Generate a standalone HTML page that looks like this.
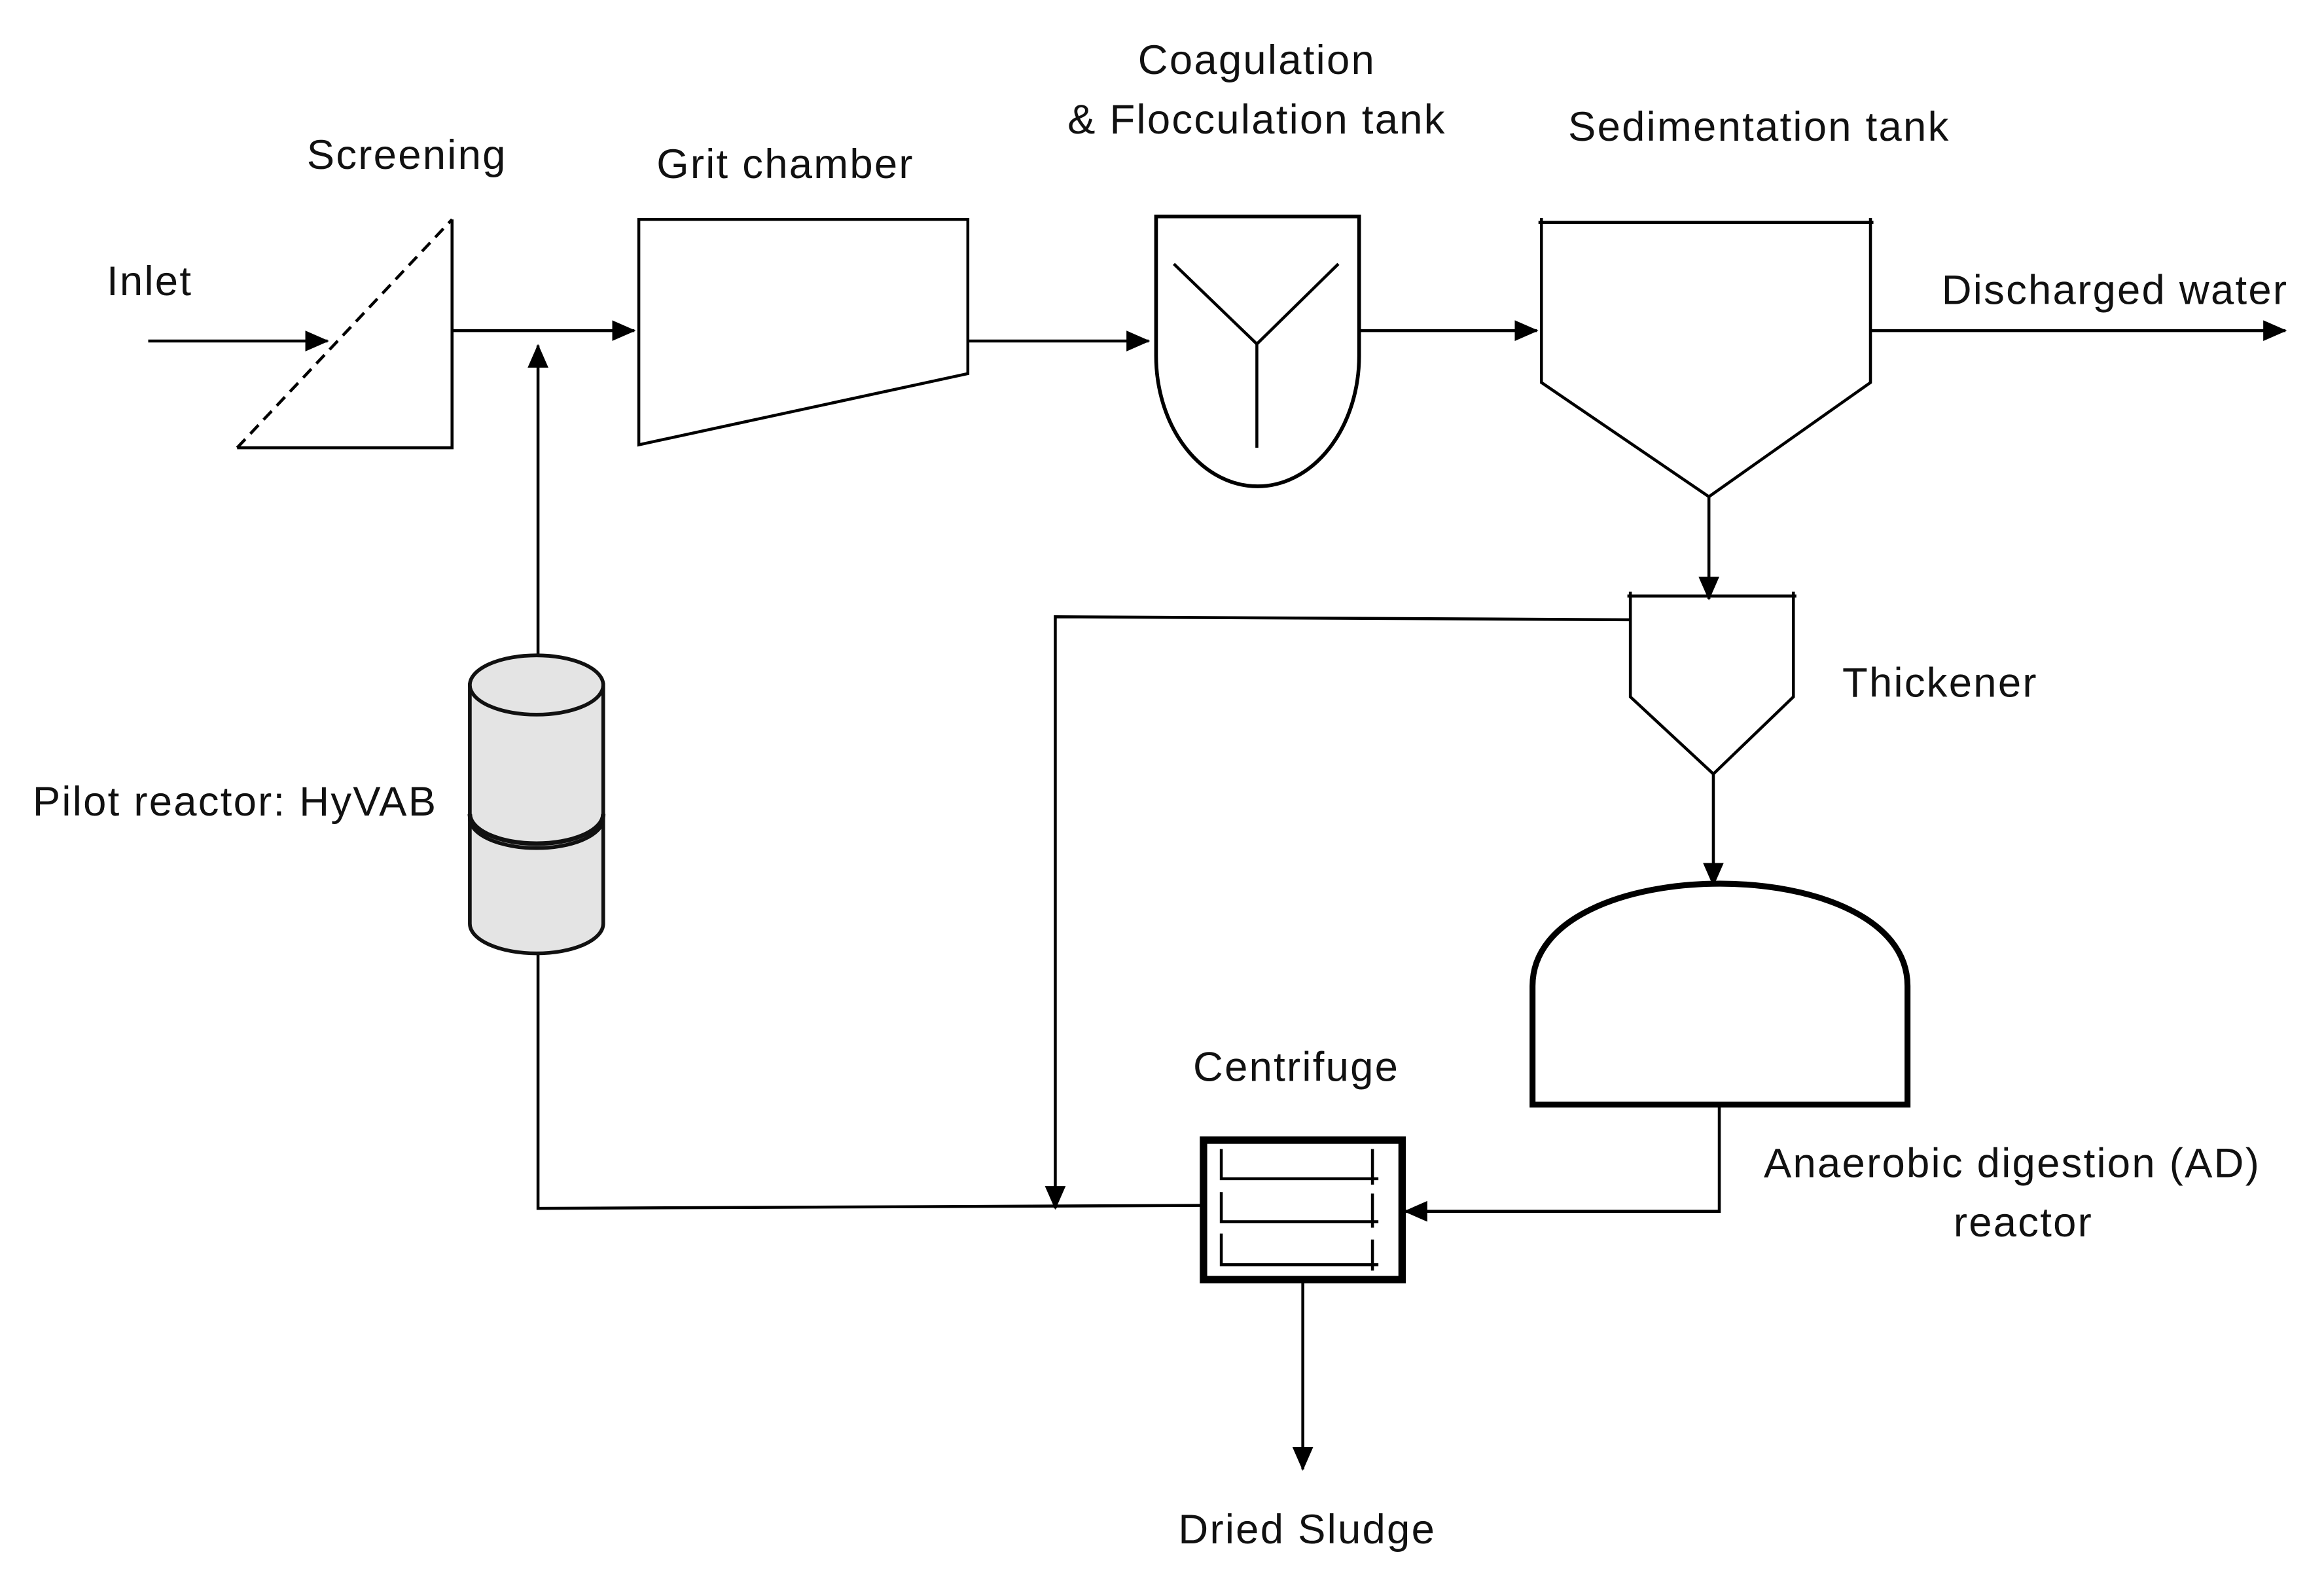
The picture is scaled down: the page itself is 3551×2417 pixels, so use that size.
<!DOCTYPE html>
<html><head><meta charset="utf-8"><style>html,body{margin:0;padding:0;background:#fff}svg{display:block}</style></head>
<body>
<svg width="3551" height="2417" viewBox="0 0 1568 1067" preserveAspectRatio="none" xmlns="http://www.w3.org/2000/svg">
<defs><marker id="b" markerWidth="16" markerHeight="14" refX="15" refY="7" orient="auto" markerUnits="userSpaceOnUse"><path d="M0,0 L16,7 L0,14 z" fill="#000"/></marker></defs>
<g font-family="Liberation Sans, sans-serif" font-size="28" letter-spacing="1" fill="#111">
<text x="72" y="199">Inlet</text>
<text x="207" y="114">Screening</text>
<text x="443" y="120">Grit chamber</text>
<text x="848" y="50" text-anchor="middle">Coagulation</text>
<text x="848" y="90" text-anchor="middle">&amp; Flocculation tank</text>
<text x="1058" y="95">Sedimentation tank</text>
<text x="1310" y="205">Discharged water</text>
<text x="1243" y="470">Thickener</text>
<text x="22" y="550">Pilot reactor: HyVAB</text>
<text x="805" y="729">Centrifuge</text>
<text x="1190" y="794">Anaerobic digestion (AD)</text>
<text x="1318" y="834">reactor</text>
<text x="795" y="1041">Dried Sludge</text>
</g>
<g fill="none" stroke="#000" stroke-width="2">
<line x1="100" y1="230" x2="221" y2="230" marker-end="url(#b)"/>
<line x1="160" y1="302" x2="305" y2="148" stroke-dasharray="8,5"/>
<polyline points="305,148 305,302 160,302"/>
<line x1="305" y1="223" x2="428" y2="223" marker-end="url(#b)"/>
<line x1="363" y1="443" x2="363" y2="233" marker-end="url(#b)"/>
<polygon points="431,148 653,148 653,252 431,300"/>
<line x1="653" y1="230" x2="775" y2="230" marker-end="url(#b)"/>
<path d="M780,146 H917 V240 A68.5,88 0 0 1 780,240 Z" stroke-width="2.5"/>
<polyline points="792,178 848,232 903,178"/>
<line x1="848" y1="232" x2="848" y2="302"/>
<line x1="917" y1="223" x2="1037" y2="223" marker-end="url(#b)"/>
<polyline points="1040,147 1040,258 1153,335 1262,258 1262,147"/>
<line x1="1038" y1="150" x2="1264" y2="150"/>
<line x1="1262" y1="223" x2="1542" y2="223" marker-end="url(#b)"/>
<line x1="1153" y1="335" x2="1153" y2="404" marker-end="url(#b)"/>
<polyline points="1100,399 1100,470 1156,522 1210,470 1210,399"/>
<line x1="1098" y1="402" x2="1212" y2="402"/>
<polyline points="1100,418 712,416 712,815" marker-end="url(#b)"/>
<line x1="1156" y1="522" x2="1156" y2="597" marker-end="url(#b)"/>
<path d="M1034,745 V665 C1034,573 1287,573 1287,665 V745 Z" stroke-width="4"/>
<polyline points="1160,745 1160,817 948,817" marker-end="url(#b)"/>
<rect x="812" y="769" width="134" height="94" stroke-width="5"/>
<polyline points="824,775 824,795 930,795"/><line x1="926" y1="775" x2="926" y2="799"/>
<polyline points="824,804 824,824 930,824"/><line x1="926" y1="805" x2="926" y2="828"/>
<polyline points="824,832 824,853 930,853"/><line x1="926" y1="836" x2="926" y2="857"/>
<polyline points="363,642 363,815 810,813"/>
<line x1="879" y1="865" x2="879" y2="991" marker-end="url(#b)"/>
</g>
<g stroke="#111" stroke-width="2.5" fill="#e4e4e4">
<path d="M317,552 V623 A45,20 0 0 0 407,623 V552 Z"/>
<path d="M317,462 V552 A45,20 0 0 0 407,552 V462 Z"/>
<path d="M317,549 A45,20 0 0 0 407,549" fill="none" stroke-width="3"/>
<ellipse cx="362" cy="462" rx="45" ry="20"/>
</g>
</svg>
</body></html>
